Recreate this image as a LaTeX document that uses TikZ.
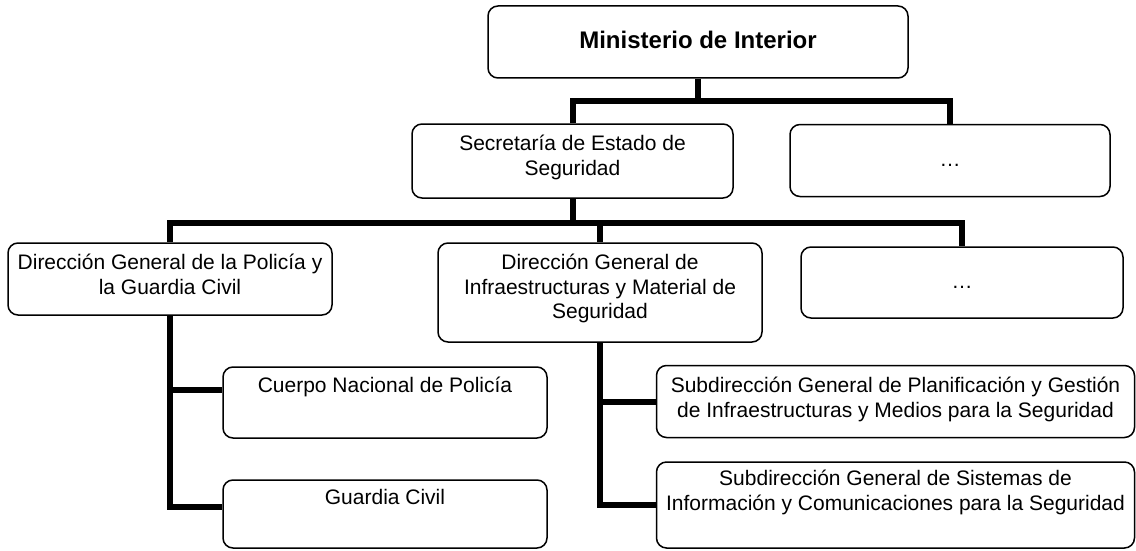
\documentclass[tikz,border=0pt]{standalone}
\usepackage{fontspec}
\setmainfont{Liberation Sans}
\usetikzlibrary{positioning}
\begin{document}
\begin{tikzpicture}[x=1pt,y=-1pt,
  orgbox/.style={draw=black, line width=1.5pt, rounded corners=10pt, fill=white, inner sep=0pt},
  txt/.style={font=\fontsize{21}{24.5}\selectfont, align=center, inner sep=0pt, anchor=north},
  conn/.style={draw=black, line width=6pt, line cap=butt, line join=miter}]
\useasboundingbox (0,0) rectangle (1136,551);
% boxes
\node[orgbox, minimum width=420pt, minimum height=72pt] (min) at (698,42) {};
\node[orgbox, minimum width=321pt, minimum height=74pt] (sec) at (572.5,161) {};
\node[orgbox, minimum width=320pt, minimum height=72pt] (dots1) at (950,160.5) {};
\node[orgbox, minimum width=324pt, minimum height=72pt] (dgp) at (170,279) {};
\node[orgbox, minimum width=324pt, minimum height=99pt] (dgi) at (600,292.5) {};
\node[orgbox, minimum width=322pt, minimum height=71pt] (dots2) at (962,282.5) {};
\node[orgbox, minimum width=324pt, minimum height=71pt] (cnp) at (385,402.5) {};
\node[orgbox, minimum width=324pt, minimum height=68pt] (gc) at (385,514) {};
\node[orgbox, minimum width=478pt, minimum height=72pt] (sub1) at (895.5,401.5) {};
\node[orgbox, minimum width=478pt, minimum height=86pt] (sub2) at (895.5,505) {};
% texts
\node[font=\fontsize{24}{27.6}\selectfont\bfseries, inner sep=0pt, anchor=base] (tmin) at (698,48.6) {Ministerio de Interior};
\node[txt] (tsec) at (572.5,133.35) {\strut Secretaría de Estado de\\Seguridad};
\node[font=\fontsize{21}{24.5}\selectfont, inner sep=0pt, anchor=base] (tdots1) at (950,166) {…};
\node[txt] (tdgp) at (170,252.35) {\strut Dirección General de la Policía y\\la Guardia Civil};
\node[txt] (tdgi) at (600,252.35) {\strut Dirección General de\\Infraestructuras y Material de\\Seguridad};
\node[font=\fontsize{21}{24.5}\selectfont, inner sep=0pt, anchor=base] (tdots2) at (962,288) {…};
\node[txt] (tcnp) at (385,375.35) {\strut Cuerpo Nacional de Policía};
\node[txt] (tgc) at (385,487.35) {\strut Guardia Civil};
\node[txt] (tsub1) at (895.5,375.35) {\strut Subdirección General de Planificación y Gestión\\de Infraestructuras y Medios para la Seguridad};
\node[txt] (tsub2) at (895.5,468.35) {\strut Subdirección General de Sistemas de\\Información y Comunicaciones para la Seguridad};
% connectors
\coordinate (b1) at (698,101);
\coordinate (b2) at (572.5,223);
\draw[conn] (min.south) -- (b1);
\draw[conn] (sec.north) |- (b1) -| (dots1.north);
\draw[conn] (sec.south) -- (b2);
\draw[conn] (dgp.north) |- (b2) -| (dots2.north);
\draw[conn] (dgi.north) -- (dgi.north |- b2);
\coordinate (cnpin) at ([yshift=12.5pt]cnp.west);
\coordinate (gcin) at ([yshift=7pt]gc.west);
\draw[conn] (dgp.south) |- (gcin);
\draw[conn] (dgp.south |- cnpin) -- (cnpin);
\draw[conn] (dgi.south) |- (sub2.west);
\draw[conn] (dgi.south |- sub1.west) -- (sub1.west);
\end{tikzpicture}
\end{document}
